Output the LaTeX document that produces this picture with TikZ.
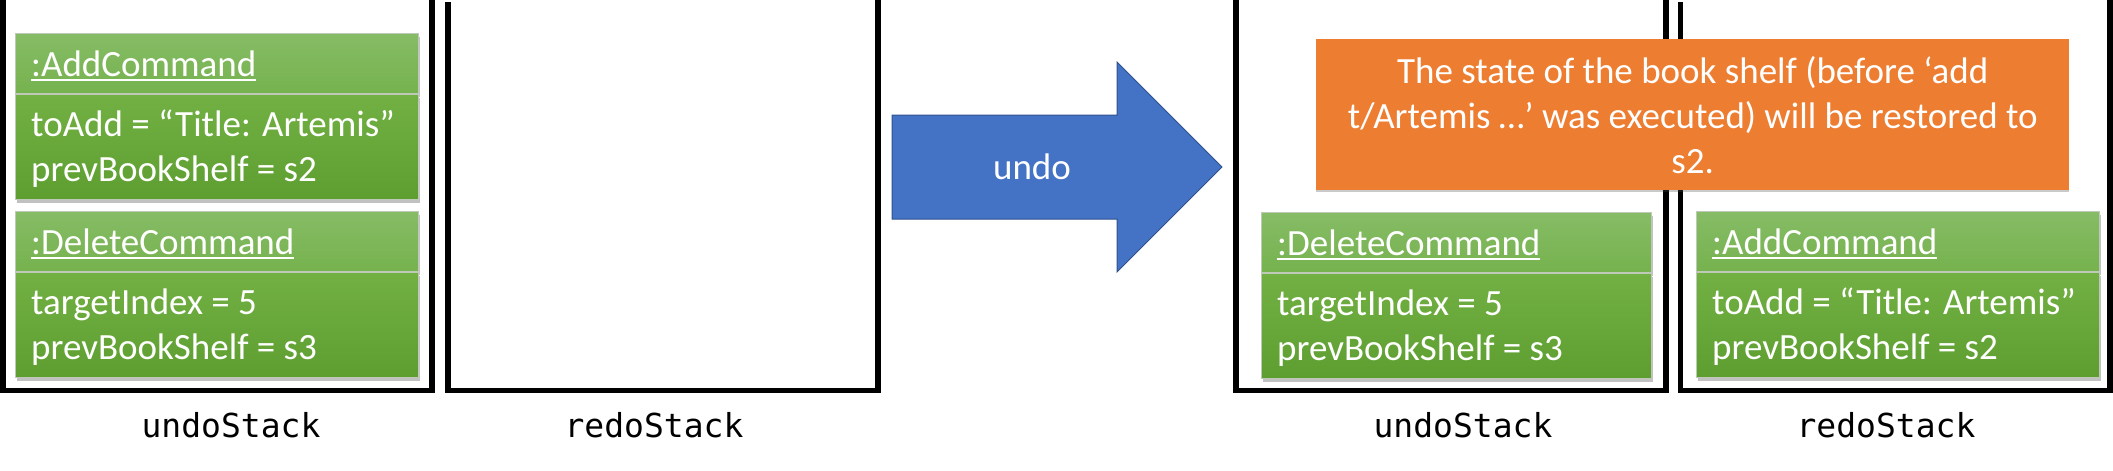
\documentclass[tikz,border=0pt]{standalone}
\usepackage{fontspec}
\setmainfont{Carlito}
\newfontfamily\labelmono{DejaVu Sans Mono}
\usetikzlibrary{shadows}
\definecolor{hdtop}{HTML}{86BC66}
\definecolor{hdbot}{HTML}{76B24E}
\definecolor{bdtop}{HTML}{72B043}
\definecolor{bdbot}{HTML}{5E9E30}
\definecolor{cmdline}{HTML}{BFC9B8}
\definecolor{orng}{HTML}{ED7D31}
\definecolor{arrowblue}{HTML}{4472C4}
\definecolor{arrowedge}{HTML}{2F528F}
\newcommand\uln[1]{\setbox0\hbox{#1}\rlap{\rule[-4.5pt]{\wd0}{1.4pt}}\box0}
\tikzset{
  wall/.style={line width=5.5pt, line join=miter},
  boxfont/.style={font=\fontsize{37}{45}\selectfont, text=white},
  cmdshadow/.style={drop shadow={shadow xshift=1pt, shadow yshift=-3pt, opacity=0.35, fill=black!70}},
  cmdhead/.style={draw=cmdline, line width=1pt, top color=hdtop, bottom color=hdbot,
    anchor=north west, minimum height=60pt, inner sep=0pt, cmdshadow},
  cmdbody/.style={draw=cmdline, line width=1pt, top color=bdtop, bottom color=bdbot,
    anchor=north west, minimum height=105pt, inner sep=0pt, cmdshadow},
  cmdtext/.style={boxfont, anchor=base west, inner sep=0pt},
  notebox/.style={boxfont, fill=orng, anchor=north west, minimum width=753pt,
    minimum height=151pt, align=center, inner sep=0pt,
    drop shadow={shadow xshift=0pt, shadow yshift=-2pt, opacity=0.3, fill=black!70}},
  arrowshape/.style={fill=arrowblue, draw=arrowedge, line width=1pt, line join=miter},
  stacklabel/.style={font=\labelmono\fontsize{33}{40}\selectfont, anchor=base, inner sep=0pt},
}
% #1 name, #2 x, #3 y, #4 width, #5 title, #6 line 1, #7 line 2
\newcommand\cmdobj[7]{%
  \node[cmdhead, minimum width=#4pt] (#1h) at (#2,#3) {};
  \node[cmdbody, minimum width=#4pt] (#1b) at (#1h.south west) {};
  \node[cmdtext] (#1t) at ([xshift=16pt,yshift=-43pt]#1h.north west) {\uln{#5}};
  \node[cmdtext] (#1a) at ([xshift=16pt,yshift=-42pt]#1b.north west) {#6};
  \node[cmdtext] (#1c) at ([xshift=16pt,yshift=-87pt]#1b.north west) {#7};
}
\begin{document}
\begin{tikzpicture}[x=1pt, y=-1pt]
\useasboundingbox (0,0) rectangle (2113,471);
% stacks
\draw[wall] (3,0) -- (3,390.5) -- (432,390.5) -- (432,0);
\draw[wall] (448,2) -- (448,390.5) -- (878,390.5) -- (878,0);
\draw[wall] (1236,0) -- (1236,390.5) -- (1666,390.5) -- (1666,0);
\draw[wall] (1680.5,2) -- (1680.5,390.5) -- (2110,390.5) -- (2110,0);
\node[stacklabel] (us1) at (231,437) {undoStack};
\node[stacklabel] (rs1) at (654,437) {redoStack};
\node[stacklabel] (us2) at (1463,437) {undoStack};
\node[stacklabel] (rs2) at (1886,437) {redoStack};
% before
\cmdobj{addA}{15}{33}{403}{:AddCommand}{toAdd = “Title: Artemis”}{prevBookShelf = s2}
\cmdobj{delA}{15}{211}{403}{:DeleteCommand}{targetIndex = 5}{prevBookShelf = s3}
% arrow
\draw[arrowshape] (892,115) -- (1117,115) -- (1117,62) -- (1222,167) -- (1117,272) -- (1117,219) -- (892,219) -- cycle;
\node[boxfont, inner sep=0pt] (undo) at (1032,167) {undo};
% after
\cmdobj{delB}{1261}{212}{390}{:DeleteCommand}{targetIndex = 5}{prevBookShelf = s3}
\cmdobj{addB}{1696}{211}{403}{:AddCommand}{toAdd = “Title: Artemis”}{prevBookShelf = s2}
\node[notebox] (note) at (1316,39) {The state of the book shelf (before ‘add\\t/Artemis …’ was executed) will be restored to\\s2.};
\end{tikzpicture}
\end{document}
